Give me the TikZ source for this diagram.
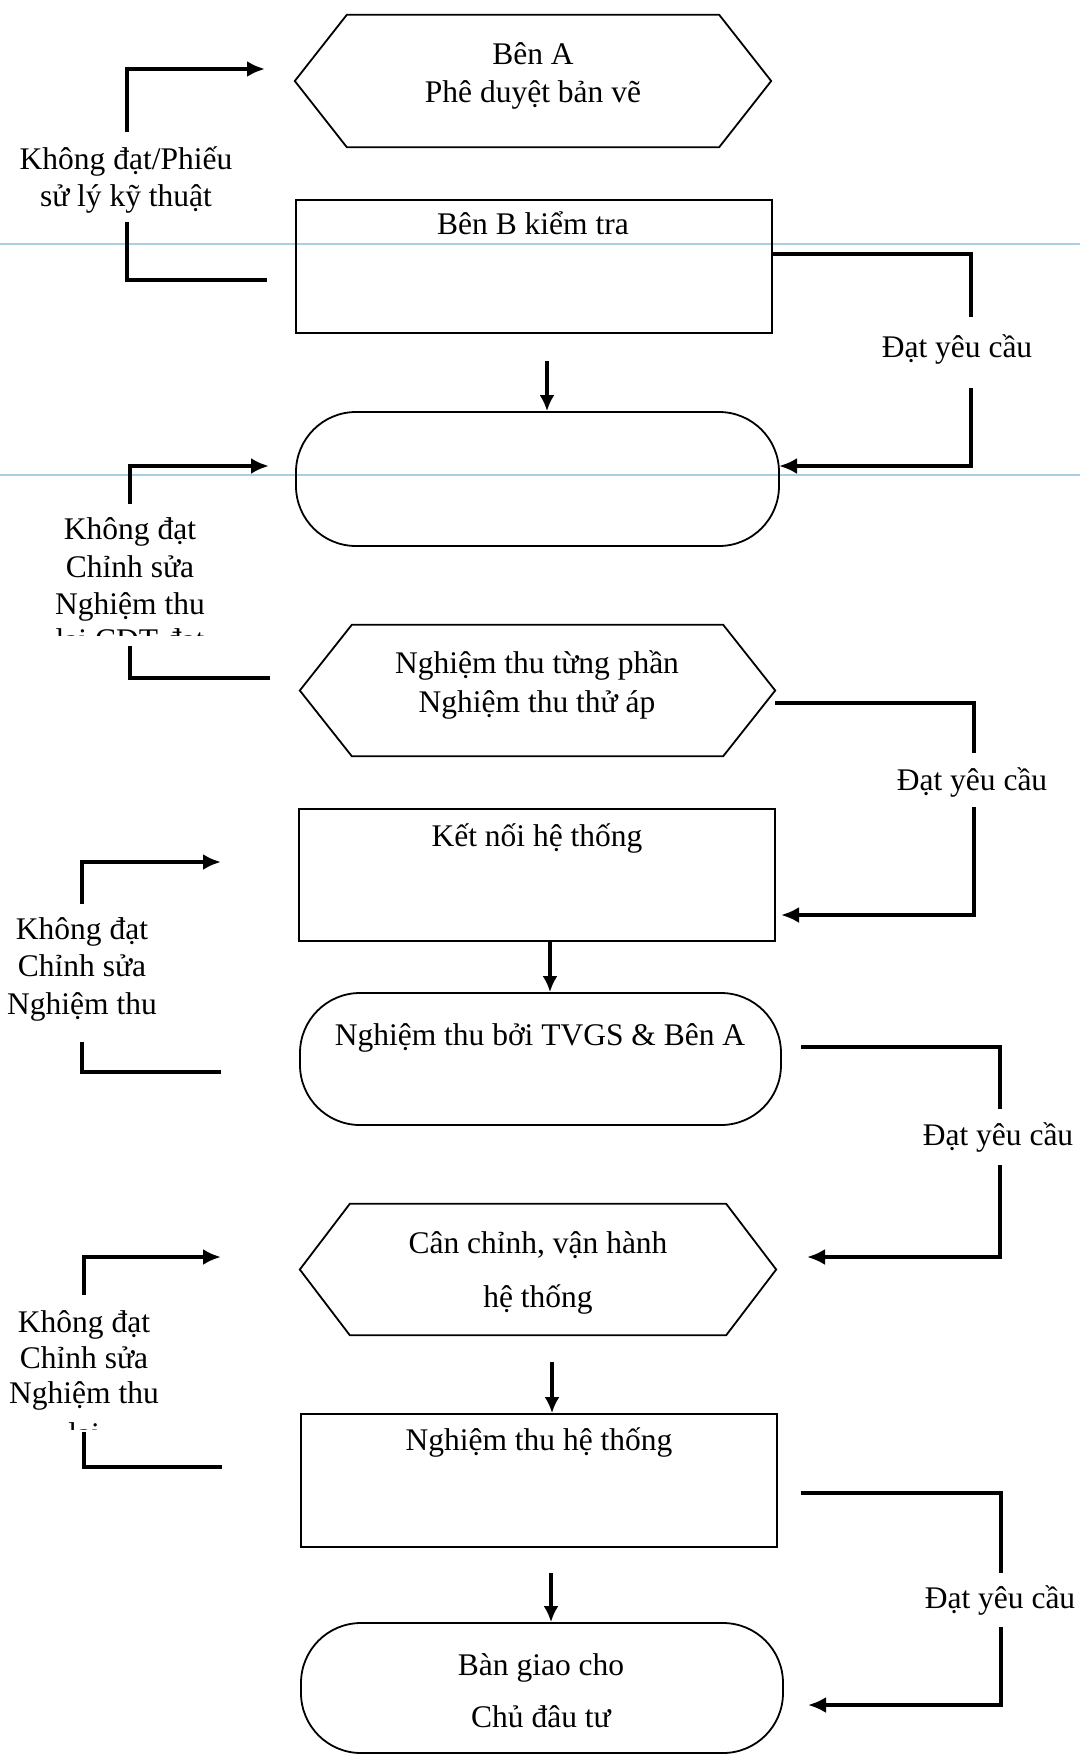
\documentclass[tikz,border=0pt]{standalone}
\usepackage{fontspec}
\setmainfont{Liberation Serif}
\usetikzlibrary{arrows.meta}
\definecolor{guideblue}{RGB}{168,208,228}
\newcommand\hexframe[2]{\draw[boxline] (#1.west) -- ([xshift=#2pt]#1.north west) -- ([xshift=-#2pt]#1.north east) -- (#1.east) -- ([xshift=-#2pt]#1.south east) -- ([xshift=#2pt]#1.south west) -- cycle;}
\begin{document}
\begin{tikzpicture}[x=1pt,y=-1pt,
  txt/.style={font=\fontsize{31.5pt}{37pt}\selectfont, inner sep=0pt, anchor=mid, yshift=-8pt},
  boxline/.style={draw=black, line width=1.8pt},
  plainbox/.style={boxline, rectangle, inner sep=0pt},
  roundbox/.style={boxline, rectangle, rounded corners=60pt, inner sep=0pt},
  hexanchor/.style={rectangle, inner sep=0pt},
  connl/.style={line width=4pt},
  connr/.style={line width=3.4pt},
  downarr/.style={line width=3.2pt, -{Latex[length=16pt,width=15pt]}},
  arrowend/.style={-{Latex[length=18pt,width=16pt]}},
  guide/.style={draw=guideblue, line width=1.3pt}
]
\useasboundingbox (0,0) rectangle (1080,1756);
\fill[white] (0,0) rectangle (1080,1756);
% guide lines
\coordinate (g1l) at (0,244); \coordinate (g1r) at (1080,244);
\coordinate (g2l) at (0,475); \coordinate (g2r) at (1080,475);
\draw[guide] (g1l) -- (g1r);
\draw[guide] (g2l) -- (g2r);

% shapes
\node[hexanchor, minimum width=476pt, minimum height=132pt] (h1) at (533,81) {};
\hexframe{h1}{52}
\node[plainbox, minimum width=476pt, minimum height=133pt] (r2) at (534,266.5) {};
\node[roundbox, minimum width=483pt, minimum height=134pt] (s3) at (537.5,479) {};
\node[hexanchor, minimum width=475pt, minimum height=131pt] (h4) at (537.5,690.5) {};
\hexframe{h4}{52}
\node[plainbox, minimum width=476pt, minimum height=132pt] (r5) at (537,875) {};
\node[roundbox, minimum width=481pt, minimum height=132pt] (s6) at (540.5,1059) {};
\node[hexanchor, minimum width=476pt, minimum height=131pt] (h7) at (538,1269.5) {};
\hexframe{h7}{50}
\node[plainbox, minimum width=476pt, minimum height=133pt] (r8) at (539,1480.5) {};
\node[roundbox, minimum width=482pt, minimum height=130pt] (s9) at (542,1688) {};

% texts in shapes
\node[txt] (t1a) at (533,54) {Bên A};
\node[txt] (t1b) at (533,92) {Phê duyệt bản vẽ};
\node[txt] (t2) at (533,224) {Bên B kiểm tra};
\node[txt] (t4a) at (537,663) {Nghiệm thu từng phần};
\node[txt] (t4b) at (537,702) {Nghiệm thu thử áp};
\node[txt] (t5) at (537,836) {Kết nối hệ thống};
\node[txt] (t6) at (540,1035) {Nghiệm thu bởi TVGS \& Bên A};
\node[txt] (t7a) at (538,1243) {Cân chỉnh, vận hành};
\node[txt] (t7b) at (538,1297) {hệ thống};
\node[txt] (t8) at (539,1440) {Nghiệm thu hệ thống};
\node[txt] (t9a) at (541,1665) {Bàn giao cho};
\node[txt] (t9b) at (541,1717) {Chủ đâu tư};

% down arrows
\coordinate (d1) at (547,361);
\coordinate (d2) at (550,0);
\coordinate (d3) at (552,1362);
\coordinate (d4) at (551,1573);
\draw[downarr] (d1) -- (s3.north -| d1);
\draw[downarr] (r5.south -| d2) -- (s6.north -| d2);
\draw[downarr] (d3) -- (r8.north -| d3);
\draw[downarr] (d4) -- (s9.north -| d4);

% right connectors (Dat yeu cau)
\coordinate (q1a) at (971,254); \coordinate (q1b) at (971,317);
\coordinate (q1c) at (971,388); \coordinate (q1d) at (971,466); \coordinate (q1e) at (779,466);
\draw[connr] (q1a -| r2.east) -- (q1a) -- (q1b);
\draw[connr, arrowend] (q1c) -- (q1d) -- (q1e);
\node[txt] (y1) at (957,347) {Đạt yêu cầu};

\coordinate (q2s) at (775,703); \coordinate (q2a) at (974,703); \coordinate (q2b) at (974,753);
\coordinate (q2c) at (974,807); \coordinate (q2d) at (974,915); \coordinate (q2e) at (781,915);
\draw[connr] (q2s) -- (q2a) -- (q2b);
\draw[connr, arrowend] (q2c) -- (q2d) -- (q2e);
\node[txt] (y2) at (972,780) {Đạt yêu cầu};

\coordinate (q3s) at (801,1047); \coordinate (q3a) at (1000,1047); \coordinate (q3b) at (1000,1109);
\coordinate (q3c) at (1000,1165); \coordinate (q3d) at (1000,1257); \coordinate (q3e) at (807,1257);
\draw[connr] (q3s) -- (q3a) -- (q3b);
\draw[connr, arrowend] (q3c) -- (q3d) -- (q3e);
\node[txt] (y3) at (998,1135) {Đạt yêu cầu};

\coordinate (q4s) at (801,1493); \coordinate (q4a) at (1001,1493); \coordinate (q4b) at (1001,1573);
\coordinate (q4c) at (1001,1627); \coordinate (q4d) at (1001,1705); \coordinate (q4e) at (808,1705);
\draw[connr] (q4s) -- (q4a) -- (q4b);
\draw[connr, arrowend] (q4c) -- (q4d) -- (q4e);
\node[txt] (y4) at (1000,1598) {Đạt yêu cầu};

% left connectors (Khong dat)
\coordinate (p1a) at (127,132); \coordinate (p1b) at (127,69); \coordinate (p1c) at (265,69);
\coordinate (p1d) at (267,280); \coordinate (p1e) at (127,280); \coordinate (p1f) at (127,222);
\draw[connl, arrowend] (p1a) -- (p1b) -- (p1c);
\draw[connl] (p1d) -- (p1e) -- (p1f);
\node[txt] (k1a) at (126,159) {Không đạt/Phiếu};
\node[txt] (k1b) at (126,196) {sử lý kỹ thuật};

\coordinate (p2a) at (130,504); \coordinate (p2b) at (130,466); \coordinate (p2c) at (269,466);
\coordinate (p2d) at (270,678); \coordinate (p2e) at (130,678); \coordinate (p2f) at (130,646);
\draw[connl, arrowend] (p2a) -- (p2b) -- (p2c);
\draw[connl] (p2d) -- (p2e) -- (p2f);
\node[txt] (k2a) at (130,529) {Không đạt};
\node[txt] (k2b) at (130,567) {Chỉnh sửa};
\node[txt] (k2c) at (130,604) {Nghiệm thu};
\begin{scope}
\clip (0,600) rectangle (300,635);
\node[txt] (k2d) at (130,640) {lại CĐT đạt};
\end{scope}

\coordinate (p3a) at (82,904); \coordinate (p3b) at (82,862); \coordinate (p3c) at (221,862);
\coordinate (p3d) at (221,1072); \coordinate (p3e) at (82,1072); \coordinate (p3f) at (82,1042);
\draw[connl, arrowend] (p3a) -- (p3b) -- (p3c);
\draw[connl] (p3d) -- (p3e) -- (p3f);
\node[txt] (k3a) at (82,929) {Không đạt};
\node[txt] (k3b) at (82,966) {Chỉnh sửa};
\node[txt] (k3c) at (82,1004) {Nghiệm thu};

\coordinate (p4a) at (84,1295); \coordinate (p4b) at (84,1257); \coordinate (p4c) at (221,1257);
\coordinate (p4d) at (222,1467); \coordinate (p4e) at (84,1467); \coordinate (p4f) at (84,1432);
\draw[connl, arrowend] (p4a) -- (p4b) -- (p4c);
\draw[connl] (p4d) -- (p4e) -- (p4f);
\node[txt] (k4a) at (84,1322) {Không đạt};
\node[txt] (k4b) at (84,1358) {Chỉnh sửa};
\node[txt] (k4c) at (84,1393) {Nghiệm thu};
\begin{scope}
\clip (0,1400) rectangle (300,1429);
\node[txt] (k4d) at (84,1434) {lại};
\end{scope}
\end{tikzpicture}
\end{document}
